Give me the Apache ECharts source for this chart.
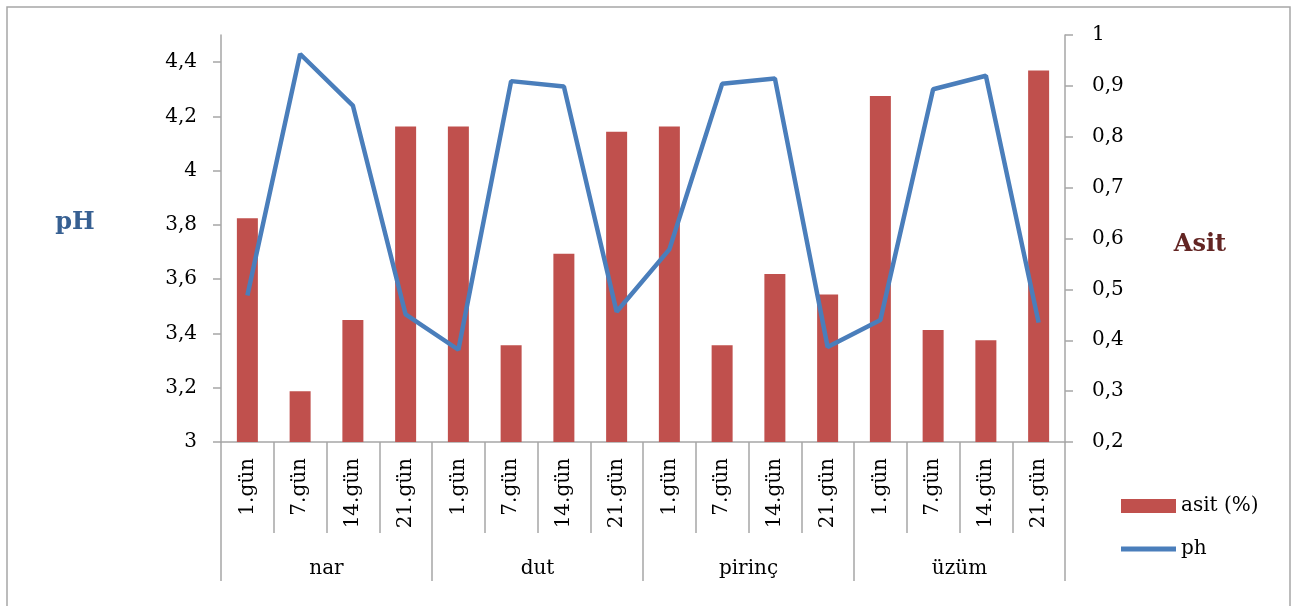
<!DOCTYPE html>
<html lang="tr">
  <head>
    <meta charset='utf-8'>
    <title>asit / ph</title>
    <script type="text/javascript" src="https://cdn.jsdelivr.net/npm/echarts@6/dist/echarts.min.js"></script>
    <style>
      body { margin: 0; background: #fff; }
    </style>
  </head>
  <body>
    <div id="chart" style="width: 1291px;height:606px;"></div>
    <script type="text/javascript">
        // data
        var days   = ['1.gün', '7.gün', '14.gün', '21.gün',
                      '1.gün', '7.gün', '14.gün', '21.gün',
                      '1.gün', '7.gün', '14.gün', '21.gün',
                      '1.gün', '7.gün', '14.gün', '21.gün'];
        var groups = ['nar', 'dut', 'pirinç', 'üzüm'];
        var asit   = [0.64, 0.30, 0.44, 0.82,
                      0.82, 0.39, 0.57, 0.81,
                      0.82, 0.39, 0.53, 0.49,
                      0.88, 0.42, 0.40, 0.93];
        var ph     = [3.54, 4.43, 4.24, 3.47,
                      3.34, 4.33, 4.31, 3.48,
                      3.71, 4.32, 4.34, 3.35,
                      3.45, 4.30, 4.35, 3.44];

        var font = 'DejaVu Serif';
        var grey = '#A6A6A6';
        var comma = function (v) { return String(+v.toFixed(2)).replace('.', ','); };

        var chart = echarts.init(document.getElementById('chart'));
        chart.setOption({
            animation: false,
            textStyle: { fontFamily: font },
            grid: { left: 221, right: 226, top: 35, bottom: 164 },
            legend: {
                orient: 'vertical',
                left: 1121,
                top: 496,
                padding: 0,
                itemWidth: 55,
                itemHeight: 14,
                itemGap: 23,
                textStyle: { fontFamily: font, fontSize: 20, color: '#000' },
                data: [
                    { name: 'asit (%)', icon: 'rect' },
                    { name: 'ph', icon: 'path://M0,0 L55,0 L55,5 L0,5 Z' }
                ]
            },
            xAxis: [{
                type: 'category',
                data: days,
                position: 'bottom',
                axisLine: { lineStyle: { color: grey, width: 1.5 } },
                axisTick: { show: true, length: 91, lineStyle: { color: grey, width: 1.5 } },
                axisLabel: { interval: 0, rotate: 90, margin: 16, fontSize: 20, color: '#000', fontFamily: font }
            }, {
                type: 'category',
                data: groups,
                position: 'bottom',
                axisLine: { show: false },
                axisTick: { show: true, length: 139, lineStyle: { color: grey, width: 1.5 } },
                axisLabel: { interval: 0, margin: 117, fontSize: 20, color: '#000', fontFamily: font }
            }],
            yAxis: [{
                type: 'value',
                min: 3,
                max: 4.5,
                interval: 0.2,
                position: 'left',
                splitLine: { show: false },
                axisLine: { show: true, lineStyle: { color: grey, width: 1.5 } },
                axisTick: { show: true, length: 8, lineStyle: { color: grey, width: 1.5 } },
                axisLabel: { showMaxLabel: false, margin: 24, fontSize: 20, color: '#000', fontFamily: font, formatter: comma }
            }, {
                type: 'value',
                min: 0.2,
                max: 1,
                interval: 0.1,
                position: 'right',
                splitLine: { show: false },
                axisLine: { show: true, lineStyle: { color: grey, width: 1.5 } },
                axisTick: { show: true, length: 8, lineStyle: { color: grey, width: 1.5 } },
                axisLabel: { margin: 27, fontSize: 20, color: '#000', fontFamily: font, formatter: comma }
            }],
            graphic: [{
                type: 'rect',
                shape: { x: 7, y: 7, width: 1283, height: 610 },
                style: { fill: null, stroke: '#A6A6A6', lineWidth: 1.5 }
            }, {
                type: 'text',
                x: 75, y: 223,
                style: { text: 'pH', fill: '#376092', font: 'bold 24px "DejaVu Serif"', align: 'center', verticalAlign: 'middle' }
            }, {
                type: 'text',
                x: 1200, y: 245,
                style: { text: 'Asit', fill: '#632523', font: 'bold 24px "DejaVu Serif"', align: 'center', verticalAlign: 'middle' }
            }],
            series: [{
                name: 'asit (%)',
                type: 'bar',
                xAxisIndex: 0,
                yAxisIndex: 1,
                barWidth: 21,
                itemStyle: { color: '#C0504D' },
                data: asit
            }, {
                name: 'ph',
                type: 'line',
                xAxisIndex: 0,
                yAxisIndex: 0,
                symbol: 'none',
                lineStyle: { color: '#4A7EBB', width: 4.5 },
                itemStyle: { color: '#4A7EBB' },
                data: ph
            }]
        });
    </script>
  </body>
</html>
